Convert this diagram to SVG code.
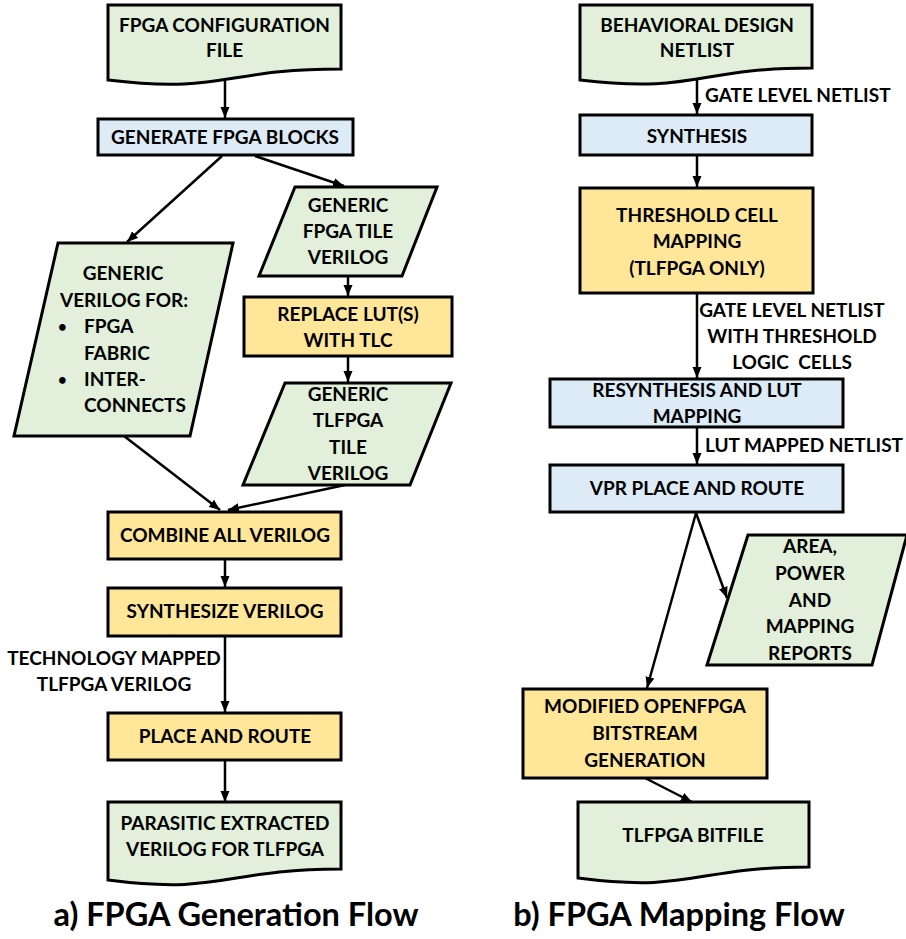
<svg xmlns="http://www.w3.org/2000/svg" width="906" height="939" viewBox="0 0 906 939">
  <style>
    .box { stroke: #000; stroke-width: 3; stroke-linejoin: miter; }
    .green { fill: #E2EFDA; }
    .blue { fill: #DDEBF7; }
    .yellow { fill: #FFE699; }
    text { font-family: Lato, "Open Sans", "Liberation Sans", sans-serif; font-weight: 700; font-size: 19px; fill: #000; }
    .c { text-anchor: middle; }
    .bullet { font-size: 15px; }
    .title { font-size: 32.5px; text-anchor: middle; }
    .wire { stroke: #000; stroke-width: 2.5; fill: none; marker-end: url(#arrow); }
  </style>
  <defs>
    <marker id="arrow" markerUnits="userSpaceOnUse" markerWidth="11" markerHeight="10" refX="11" refY="5" orient="auto">
      <path d="M0,0.5 L11,5 L0,9.5 z" fill="#000"/>
    </marker>
  </defs>

  <!-- connectors -->
  <g id="connectors">
    <line class="wire" x1="225" y1="78" x2="225" y2="118"/>
    <line class="wire" x1="222" y1="156" x2="127" y2="242"/>
    <line class="wire" x1="255" y1="156" x2="344" y2="186"/>
    <line class="wire" x1="348" y1="276" x2="348" y2="296"/>
    <line class="wire" x1="348" y1="356" x2="348" y2="382"/>
    <line class="wire" x1="124" y1="436" x2="220" y2="510"/>
    <line class="wire" x1="345" y1="485" x2="228" y2="510"/>
    <line class="wire" x1="225" y1="559" x2="225" y2="587"/>
    <line class="wire" x1="225" y1="636" x2="225" y2="712"/>
    <line class="wire" x1="225" y1="760" x2="225" y2="802"/>

    <line class="wire" x1="697" y1="76" x2="697" y2="114"/>
    <line class="wire" x1="697" y1="155" x2="697" y2="187"/>
    <line class="wire" x1="697" y1="293" x2="697" y2="378"/>
    <line class="wire" x1="697" y1="427" x2="697" y2="464"/>
    <line class="wire" x1="696" y1="513" x2="727" y2="598"/>
    <line class="wire" x1="696" y1="513" x2="647" y2="688"/>
    <line class="wire" x1="645" y1="778" x2="692" y2="802"/>
  </g>

  <!-- connector labels -->
  <g id="labels">
    <text class="c" x="114" y="665">TECHNOLOGY MAPPED</text>
    <text class="c" x="114" y="691">TLFPGA VERILOG</text>
    <text x="705" y="102">GATE LEVEL NETLIST</text>
    <text class="c" x="792" y="317">GATE LEVEL NETLIST</text>
    <text class="c" x="792" y="343">WITH THRESHOLD</text>
    <text class="c" x="792" y="369" xml:space="preserve">LOGIC  CELLS</text>
    <text x="705" y="452">LUT MAPPED NETLIST</text>
  </g>

  <!-- a) generation flow -->
  <g id="fpga-config-file">
    <path class="box green" d="M108,5 H341 V69 C224,69 224,94 108,80 Z"/>
    <text class="c" x="224.5" y="32">FPGA CONFIGURATION</text>
    <text class="c" x="224.5" y="57">FILE</text>
  </g>
  <g id="generate-blocks">
    <rect class="box blue" x="98" y="119" width="255" height="36"/>
    <text class="c" x="225" y="144">GENERATE FPGA BLOCKS</text>
  </g>
  <g id="generic-verilog">
    <polygon class="box green" points="58,243 233,243 190,436 14,436"/>
    <text class="c" x="123" y="280">GENERIC</text>
    <text x="60" y="307">VERILOG FOR:</text>
    <text class="bullet" x="58" y="332">•</text>
    <text x="84" y="333">FPGA</text>
    <text x="84" y="360">FABRIC</text>
    <text class="bullet" x="58" y="385">•</text>
    <text x="84" y="386">INTER-</text>
    <text x="84" y="412">CONNECTS</text>
  </g>
  <g id="generic-tile">
    <polygon class="box green" points="295,187 437,187 402,276 259,276"/>
    <text class="c" x="348" y="212">GENERIC</text>
    <text class="c" x="348" y="238">FPGA TILE</text>
    <text class="c" x="348" y="264">VERILOG</text>
  </g>
  <g id="replace-lut">
    <rect class="box yellow" x="244" y="297" width="208" height="59"/>
    <text class="c" x="348" y="321">REPLACE LUT(S)</text>
    <text class="c" x="348" y="347">WITH TLC</text>
  </g>
  <g id="tlfpga-tile">
    <polygon class="box green" points="285,383 451,383 410,485 243,485"/>
    <text class="c" x="348" y="401">GENERIC</text>
    <text class="c" x="348" y="427">TLFPGA</text>
    <text class="c" x="348" y="454">TILE</text>
    <text class="c" x="348" y="480">VERILOG</text>
  </g>
  <g id="combine">
    <rect class="box yellow" x="108" y="512" width="233" height="47"/>
    <text class="c" x="225" y="542">COMBINE ALL VERILOG</text>
  </g>
  <g id="synthesize">
    <rect class="box yellow" x="108" y="588" width="233" height="48"/>
    <text class="c" x="225" y="618">SYNTHESIZE VERILOG</text>
  </g>
  <g id="place-route">
    <rect class="box yellow" x="108" y="713" width="233" height="47"/>
    <text class="c" x="225" y="743">PLACE AND ROUTE</text>
  </g>
  <g id="parasitic-verilog">
    <path class="box green" d="M108,802 H341 V869 C224,869 224,895 108,880 Z"/>
    <text class="c" x="225" y="830">PARASITIC EXTRACTED</text>
    <text class="c" x="225" y="856">VERILOG FOR TLFPGA</text>
  </g>
  <text class="title" x="236" y="926">a) FPGA Generation Flow</text>

  <!-- b) mapping flow -->
  <g id="behavioral-netlist">
    <path class="box green" d="M580,5 H812 V68 C696,68 696,94 580,80 Z"/>
    <text class="c" x="697" y="32">BEHAVIORAL DESIGN</text>
    <text class="c" x="697" y="57">NETLIST</text>
  </g>
  <g id="synthesis">
    <rect class="box blue" x="580" y="115" width="232" height="40"/>
    <text class="c" x="697" y="143">SYNTHESIS</text>
  </g>
  <g id="threshold-mapping">
    <rect class="box yellow" x="580" y="188" width="233" height="105"/>
    <text class="c" x="697" y="222">THRESHOLD CELL</text>
    <text class="c" x="697" y="248">MAPPING</text>
    <text class="c" x="697" y="275">(TLFPGA ONLY)</text>
  </g>
  <g id="resynthesis">
    <rect class="box blue" x="550" y="379" width="293" height="48"/>
    <text class="c" x="697" y="397">RESYNTHESIS AND LUT</text>
    <text class="c" x="697" y="423">MAPPING</text>
  </g>
  <g id="vpr">
    <rect class="box blue" x="550" y="465" width="293" height="47"/>
    <text class="c" x="697" y="495">VPR PLACE AND ROUTE</text>
  </g>
  <g id="reports">
    <polygon class="box green" points="748,535 907,535 872,665 707,665"/>
    <text class="c" x="810" y="553">AREA,</text>
    <text class="c" x="810" y="580">POWER</text>
    <text class="c" x="810" y="607">AND</text>
    <text class="c" x="810" y="633">MAPPING</text>
    <text class="c" x="810" y="660">REPORTS</text>
  </g>
  <g id="bitstream">
    <rect class="box yellow" x="523" y="689" width="244" height="89"/>
    <text class="c" x="645" y="713">MODIFIED OPENFPGA</text>
    <text class="c" x="645" y="740">BITSTREAM</text>
    <text class="c" x="645" y="767">GENERATION</text>
  </g>
  <g id="bitfile">
    <path class="box green" d="M578,802 H809 V867 C693,867 693,893 578,878 Z"/>
    <text class="c" x="693" y="842">TLFPGA BITFILE</text>
  </g>
  <text class="title" x="679" y="926">b) FPGA Mapping Flow</text>
</svg>
